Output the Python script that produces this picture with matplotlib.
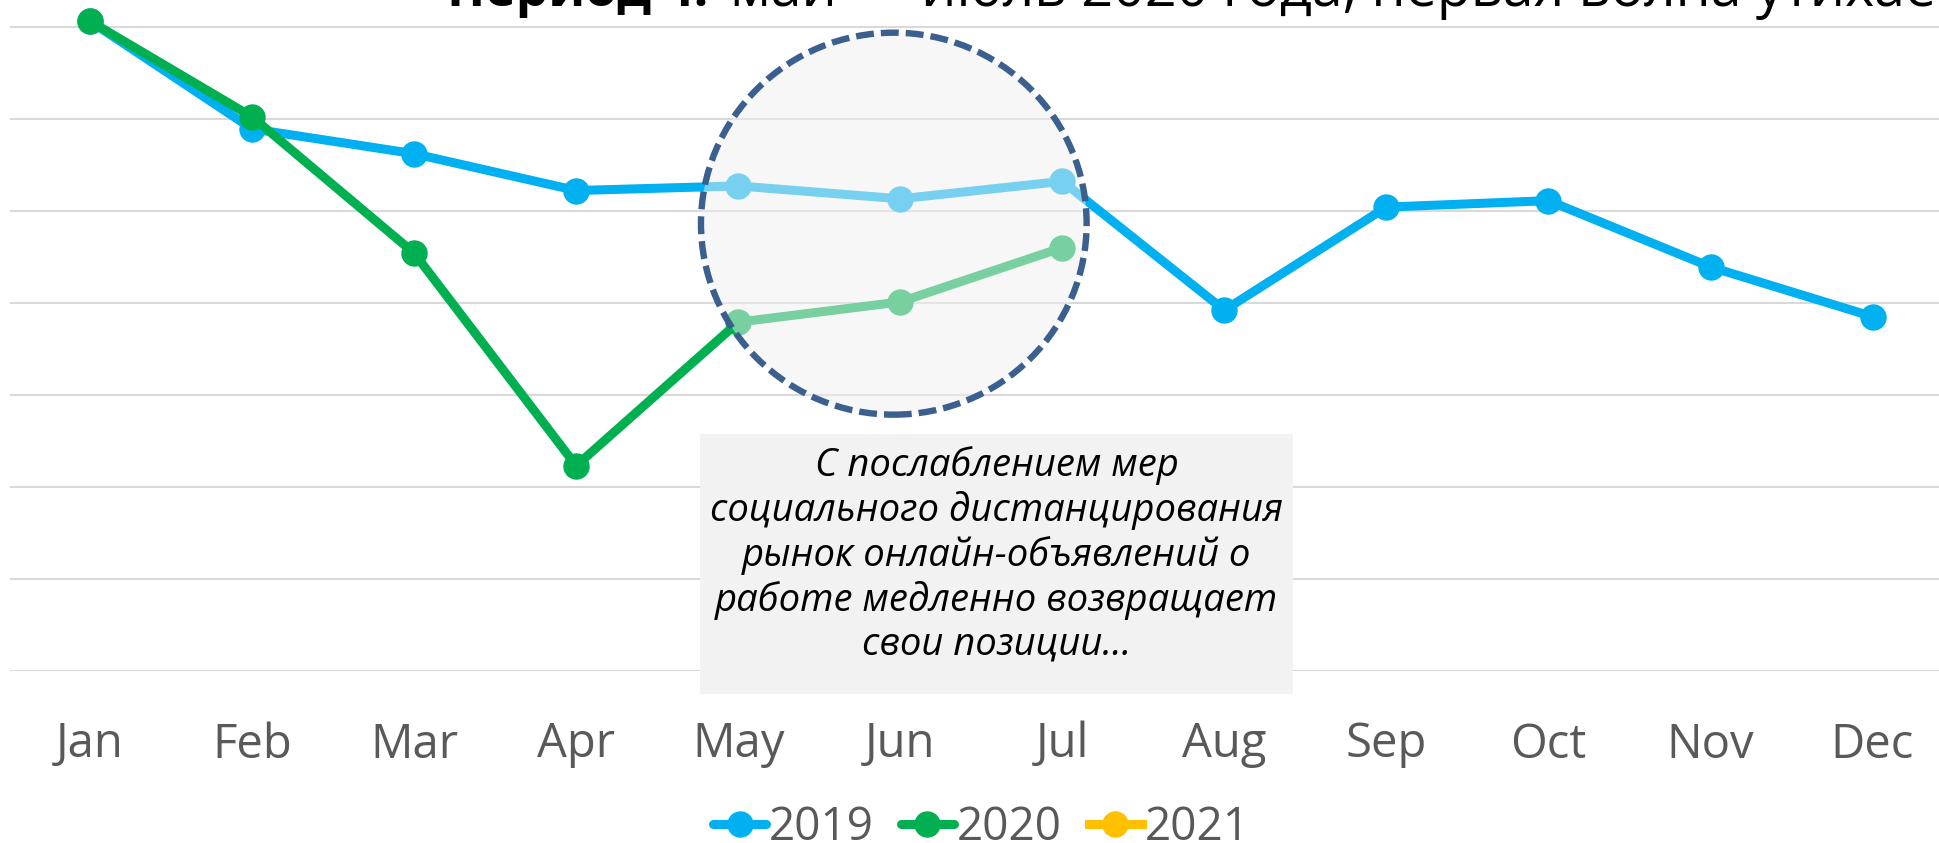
import numpy as np
import matplotlib.pyplot as plt
from matplotlib.patches import Ellipse, Rectangle

# data
months = ['Jan', 'Feb', 'Mar', 'Apr', 'May', 'Jun',
          'Jul', 'Aug', 'Sep', 'Oct', 'Nov', 'Dec']
y2019 = [7.06, 5.89, 5.62, 5.22, 5.27, 5.13, 5.32, 3.92, 5.04, 5.11, 4.39, 3.85]
y2020 = [7.06, 6.02, 4.54, 2.23, 3.79, 4.01, 4.60]
y2021 = []

note = ('С послаблением мер\nсоциального дистанцирования\n'
        'рынок онлайн-объявлений о\nработе медленно возвращает\nсвои позиции...')

c19 = '#00B0F0'
c20 = '#00B050'
c21 = '#FFC000'
gray = '#595959'

plt.rcParams['font.family'] = ['Open Sans', 'DejaVu Sans']

W, H = 1939, 843
fig = plt.figure(figsize=(W / 100, H / 100), dpi=100)
ax = fig.add_axes([10 / W, 172 / H, 1929 / W, 671 / H])

x = np.arange(len(months))
ax.plot(x[:len(y2019)], y2019, color=c19, lw=6.5, marker='o', ms=18,
        solid_capstyle='round', label='2019', zorder=3)
ax.plot(x[:len(y2020)], y2020, color=c20, lw=6.5, marker='o', ms=18,
        solid_capstyle='round', label='2020', zorder=4)
ax.plot(x[:len(y2021)], y2021, color=c21, lw=6.5, marker='o', ms=18,
        label='2021', zorder=4)

# highlight circle over May-Jul
circ = Ellipse((4.96, 4.86), 2.38, 4.15, facecolor=(0.94, 0.94, 0.94, 0.5),
               edgecolor='#3B5F8E', lw=4.6, linestyle=(0, (2.8, 1.1)), zorder=6)
ax.add_patch(circ)

# note box
box = Rectangle((0.3577, -0.0343), 0.3074, 0.3875, transform=ax.transAxes,
                facecolor='#F2F2F2', edgecolor='none', clip_on=False, zorder=2)
ax.add_patch(box)
ax.text(0.5114, 0.173, note, transform=ax.transAxes, ha='center', va='center',
        fontsize=27.5, style='italic', color='black', linespacing=1.2, zorder=7)

ax.set_xlim(-0.494, 11.41)
ax.set_ylim(0, 7.29)
ax.set_yticks(range(8))
ax.set_yticklabels([])
ax.set_xticks(x)
ax.set_xticklabels(months, fontsize=34, color=gray)
ax.tick_params(axis='both', length=0)
ax.tick_params(axis='x', pad=36)
ax.grid(axis='y', color='#D9D9D9', lw=1.5, zorder=0)
ax.set_axisbelow(True)
for s in ax.spines.values():
    s.set_visible(False)

leg = fig.legend(loc='center', bbox_to_anchor=(0.506, 1 - 828 / H), ncol=3,
                 frameon=False, fontsize=33, handlelength=1.16,
                 handletextpad=0.05, columnspacing=0.6, borderaxespad=0)
for t in leg.get_texts():
    t.set_color(gray)

# title, cut off at the top of the picture
fig.text(447 / W, 1 - 6 / H, 'Период 4:', fontsize=37, fontweight='bold',
         ha='left', va='baseline')
fig.text(730 / W, 1 - 6 / H, 'май — июль 2020 года, первая волна утихает',
         fontsize=40, ha='left', va='baseline')

fig.savefig('out.png', dpi=100)
